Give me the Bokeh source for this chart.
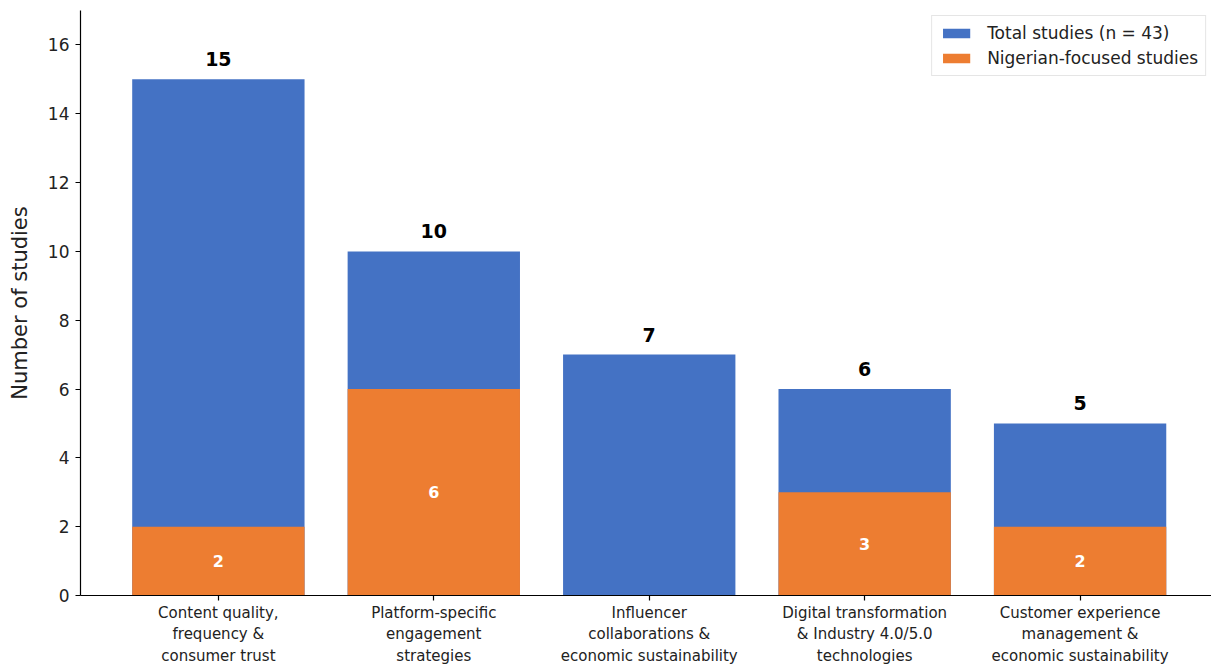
from bokeh.plotting import figure
from bokeh.models import Range1d, ColumnDataSource, FixedTicker, Legend, LegendItem
from bokeh.embed import file_html
from bokeh.resources import INLINE
from bokeh.core.properties import value

categories = [
    "Content quality,\nfrequency &\nconsumer trust",
    "Platform-specific\nengagement\nstrategies",
    "Influencer\ncollaborations &\neconomic sustainability",
    "Digital transformation\n& Industry 4.0/5.0\ntechnologies",
    "Customer experience\nmanagement &\neconomic sustainability",
]
total_studies = [15, 10, 7, 6, 5]
nigerian_studies = [2, 6, 0, 3, 2]
y_ticks = [0, 2, 4, 6, 8, 10, 12, 14, 16]

BLUE = "#4472C4"
ORANGE = "#ED7D31"
FONT = "DejaVu Sans"

xs = list(range(len(categories)))
src = ColumnDataSource(dict(
    x=xs,
    total=total_studies,
    nig=nigerian_studies,
    total_lbl=[str(v) for v in total_studies],
    nig_mid=[v / 2 for v in nigerian_studies],
    nig_lbl=[str(v) if v > 0 else "" for v in nigerian_studies],
))

p = figure(width=1211, height=667, output_backend="svg", toolbar_location=None,
           x_range=Range1d(-0.64, 4.61), y_range=Range1d(0, 17),
           min_border_left=80, min_border_right=0, min_border_top=10, min_border_bottom=71)
p.outline_line_color = None
p.grid.visible = False
p.background_fill_color = "white"

r_total = p.vbar(x="x", top="total", width=0.8, source=src, fill_color=BLUE, line_color=None)
r_nig = p.vbar(x="x", top="nig", width=0.8, source=src, fill_color=ORANGE, line_color=None)

p.text(x="x", y="total", text="total_lbl", source=src, text_align="center", text_baseline="bottom",
       y_offset=-13, text_font=value(FONT), text_font_size="19px", text_font_style="bold", text_color="black")
p.text(x="x", y="nig_mid", text="nig_lbl", source=src, text_align="center", text_baseline="middle",
       text_font=value(FONT), text_font_size="16px", text_font_style="bold", text_color="white")

# axes
p.xaxis.ticker = FixedTicker(ticks=xs)
p.xaxis.major_label_overrides = {i: c for i, c in enumerate(categories)}
p.yaxis.ticker = FixedTicker(ticks=y_ticks)
for ax in (p.xaxis[0], p.yaxis[0]):
    ax.axis_line_color = "black"
    ax.axis_line_width = 1.2
    ax.major_tick_line_color = "black"
    ax.major_tick_line_width = 1.2
    ax.major_tick_out = 5
    ax.major_tick_in = 0
    ax.minor_tick_line_color = None
    ax.major_label_text_font = FONT
    ax.major_label_text_color = "#222222"
p.xaxis.major_label_text_font_size = "15px"
p.xaxis.major_label_standoff = 3
p.yaxis.major_label_text_font_size = "17px"
p.yaxis.major_label_standoff = 6
p.yaxis.axis_label = "Number of studies"
p.yaxis.axis_label_text_font = FONT
p.yaxis.axis_label_text_font_size = "21px"
p.yaxis.axis_label_text_font_style = "normal"
p.yaxis.axis_label_text_color = "#222222"
p.yaxis.axis_label_standoff = 13

legend = Legend(items=[
    LegendItem(label="Total studies (n = 43)", renderers=[r_total]),
    LegendItem(label="Nigerian-focused studies", renderers=[r_nig]),
], location="top_right")
legend.margin = 5
legend.padding = 7
legend.spacing = 5
legend.label_height = 20
legend.glyph_height = 12
legend.glyph_width = 34
legend.label_standoff = 14
legend.label_text_font = FONT
legend.label_text_font_size = "17px"
legend.label_text_color = "#222222"
legend.border_line_color = "#cccccc"
legend.border_line_width = 1
legend.background_fill_alpha = 0.9
p.add_layout(legend)

open("out.html", "w").write(file_html(p, INLINE))
